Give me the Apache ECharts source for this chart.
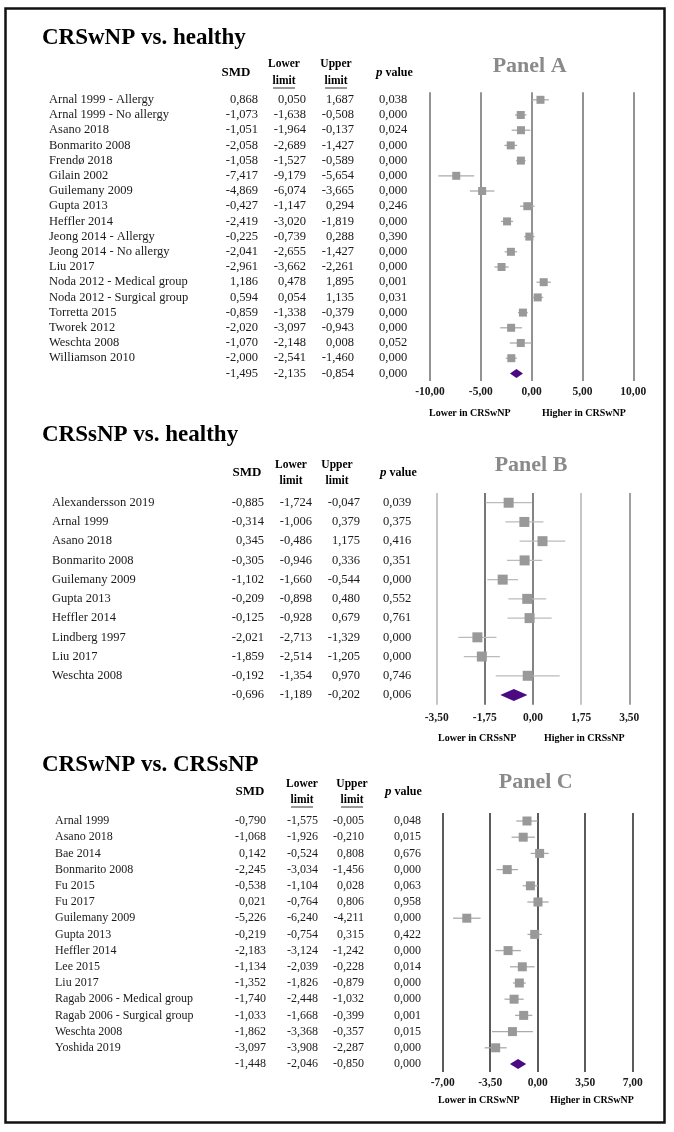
<!DOCTYPE html>
<html><head><meta charset="utf-8">
<script src="https://cdn.jsdelivr.net/npm/echarts@6/dist/echarts.min.js"></script>
<style>html,body{margin:0;padding:0;background:#fff}#c{width:674px;height:1132px}</style>
</head><body><div id="c"></div>
<script>
// ---------- Panel A: CRSwNP vs. healthy ----------
const namesA = ['Arnal 1999 - Allergy','Arnal 1999 - No allergy','Asano 2018','Bonmarito 2008','Frendø 2018','Gilain 2002','Guilemany 2009','Gupta 2013','Heffler 2014','Jeong 2014 - Allergy','Jeong 2014 - No allergy','Liu 2017','Noda 2012 - Medical group','Noda 2012 - Surgical group','Torretta 2015','Tworek 2012','Weschta 2008','Williamson 2010'];
const smdA   = [0.868,-1.073,-1.051,-2.058,-1.058,-7.417,-4.869,-0.427,-2.419,-0.225,-2.041,-2.961,1.186,0.594,-0.859,-2.020,-1.070,-2.000,-1.495];
const lowerA = [0.050,-1.638,-1.964,-2.689,-1.527,-9.179,-6.074,-1.147,-3.020,-0.739,-2.655,-3.662,0.478,0.054,-1.338,-3.097,-2.148,-2.541,-2.135];
const upperA = [1.687,-0.508,-0.137,-1.427,-0.589,-5.654,-3.665,0.294,-1.819,0.288,-1.427,-2.261,1.895,1.135,-0.379,-0.943,0.008,-1.460,-0.854];
const pA     = [0.038,0.000,0.024,0.000,0.000,0.000,0.000,0.246,0.000,0.390,0.000,0.000,0.001,0.031,0.000,0.000,0.052,0.000,0.000];
const ticksA = ['-10,00','-5,00','0,00','5,00','10,00'];

// ---------- Panel B: CRSsNP vs. healthy ----------
const namesB = ['Alexandersson 2019','Arnal 1999','Asano 2018','Bonmarito 2008','Guilemany 2009','Gupta 2013','Heffler 2014','Lindberg 1997','Liu 2017','Weschta 2008'];
const smdB   = [-0.885,-0.314,0.345,-0.305,-1.102,-0.209,-0.125,-2.021,-1.859,-0.192,-0.696];
const lowerB = [-1.724,-1.006,-0.486,-0.946,-1.660,-0.898,-0.928,-2.713,-2.514,-1.354,-1.189];
const upperB = [-0.047,0.379,1.175,0.336,-0.544,0.480,0.679,-1.329,-1.205,0.970,-0.202];
const pB     = [0.039,0.375,0.416,0.351,0.000,0.552,0.761,0.000,0.000,0.746,0.006];
const ticksB = ['-3,50','-1,75','0,00','1,75','3,50'];

// ---------- Panel C: CRSwNP vs. CRSsNP ----------
const namesC = ['Arnal 1999','Asano 2018','Bae 2014','Bonmarito 2008','Fu 2015','Fu 2017','Guilemany 2009','Gupta 2013','Heffler 2014','Lee 2015','Liu 2017','Ragab 2006 - Medical group','Ragab 2006 - Surgical group','Weschta 2008','Yoshida 2019'];
const smdC   = [-0.790,-1.068,0.142,-2.245,-0.538,0.021,-5.226,-0.219,-2.183,-1.134,-1.352,-1.740,-1.033,-1.862,-3.097,-1.448];
const lowerC = [-1.575,-1.926,-0.524,-3.034,-1.104,-0.764,-6.240,-0.754,-3.124,-2.039,-1.826,-2.448,-1.668,-3.368,-3.908,-2.046];
const upperC = [-0.005,-0.210,0.808,-1.456,0.028,0.806,-4.211,0.315,-1.242,-0.228,-0.879,-1.032,-0.399,-0.357,-2.287,-0.850];
const pC     = [0.048,0.015,0.676,0.000,0.063,0.958,0.000,0.422,0.000,0.014,0.000,0.000,0.001,0.015,0.000,0.000];
const ticksC = ['-7,00','-3,50','0,00','3,50','7,00'];

const titles = ['CRSwNP vs. healthy','CRSsNP vs. healthy','CRSwNP vs. CRSsNP'];
const panelLabels = ['Panel A','Panel B','Panel C'];
const headerCols = ['SMD','Lower','limit','Upper','limit','p',' value'];
const footLeft = ['Lower in CRSwNP','Lower in CRSsNP','Lower in CRSwNP'];
const footRight = ['Higher in CRSwNP','Higher in CRSsNP','Higher in CRSwNP'];

const SERIF = '"Liberation Serif","Times New Roman",serif';
const fmt3 = v => v.toFixed(3).replace('.', ',');

const panels = [
  {names:namesA, smd:smdA, lower:lowerA, upper:upperA, p:pA, ticks:ticksA,
   min:-10, max:10, interval:5, left:430, width:203.3, top:92.2, rowH:15.2,
   nameX:49, colX:[258,306,354,379], fs:12.5, sq:8, dh:9, underline:true,
   split:['#777','#777','#777','#777','#777'], ciColor:'#aaa', sqColor:'#999',
   titleY:40, panelY:66, hdrY:73, hdrY1:64, hdrY2:81, hdrX:[236,284,336,376],
   tickY:392, footY:413, footX:[429,542]},
  {names:namesB, smd:smdB, lower:lowerB, upper:upperB, p:pB, ticks:ticksB,
   min:-3.5, max:3.5, interval:1.75, left:436.7, width:192.6, top:493.1, rowH:19.23,
   nameX:52, colX:[264,312,360,383], fs:12.5, sq:10, dh:12, underline:false,
   split:['#b8b8b8','#555','#666','#b8b8b8','#888'], ciColor:'#bbb', sqColor:'#999',
   titleY:437, panelY:465, hdrY:473, hdrY1:465, hdrY2:481, hdrX:[247,291,337,380],
   tickY:718, footY:738, footX:[438,544]},
  {names:namesC, smd:smdC, lower:lowerC, upper:upperC, p:pC, ticks:ticksC,
   min:-7, max:7, interval:3.5, left:442.7, width:190, top:812.9, rowH:16.2,
   nameX:55, colX:[266,318,364,394], fs:12, sq:9, dh:10, underline:true,
   split:['#333','#333','#333','#333','#333'], ciColor:'#aaa', sqColor:'#999',
   titleY:767, panelY:782, hdrY:792, hdrY1:784, hdrY2:800, hdrX:[250,302,352,385],
   tickY:1083, footY:1100, footX:[438,550]}
];

function txt(x, y, s, align, font, fill) {
  return {type:'text', silent:true, style:{x:x, y:y, text:s, align:align, verticalAlign:'middle', font:font, fill:fill||'#1a1a1a'}};
}

const grids = [], xAxes = [], yAxes = [], series = [], graphics = [];

panels.forEach((P, k) => {
  const n = P.smd.length;
  grids.push({left:P.left, top:P.top, width:P.width, height:P.rowH*n});
  xAxes.push({type:'value', gridIndex:k, min:P.min, max:P.max, interval:P.interval,
    axisLine:{show:false}, axisTick:{show:false},
    splitLine:{show:true, lineStyle:{color:P.split, width:1.6}},
    axisLabel:{margin:P.tickY - (P.top + P.rowH*n) - 6, color:'#1a1a1a', fontFamily:SERIF, fontWeight:'bold', fontSize:11.5,
      formatter:(v, idx) => P.ticks[idx]}});
  yAxes.push({type:'category', gridIndex:k, inverse:true, show:false, data:P.names.concat([''])});
  const rowFont = P.fs + 'px ' + SERIF;
  series.push({type:'custom', xAxisIndex:k, yAxisIndex:k, clip:false, silent:true,
    data:P.smd.map((v, i) => [v, i, P.lower[i], P.upper[i]]),
    encode:{x:0, y:1},
    renderItem:function(params, api) {
      const i = params.dataIndex;
      const c = api.coord([api.value(0), i]);
      const xl = api.coord([api.value(2), i])[0];
      const xu = api.coord([api.value(3), i])[0];
      const y = c[1];
      const ch = [];
      if (i < P.names.length) ch.push(txt(P.nameX, y, P.names[i], 'left', rowFont));
      ch.push(txt(P.colX[0], y, fmt3(P.smd[i]), 'right', rowFont));
      ch.push(txt(P.colX[1], y, fmt3(P.lower[i]), 'right', rowFont));
      ch.push(txt(P.colX[2], y, fmt3(P.upper[i]), 'right', rowFont));
      ch.push(txt(P.colX[3], y, fmt3(P.p[i]), 'left', rowFont));
      if (i < P.names.length) {
        ch.push({type:'line', shape:{x1:xl, y1:y, x2:xu, y2:y}, style:{stroke:P.ciColor, lineWidth:1.3}});
        ch.push({type:'rect', shape:{x:c[0]-P.sq/2, y:y-P.sq/2, width:P.sq, height:P.sq}, style:{fill:P.sqColor}});
      } else {
        const h = P.dh/2;
        ch.push({type:'polygon', shape:{points:[[xl,y],[c[0],y-h],[xu,y],[c[0],y+h]]}, style:{fill:'#4b0a82'}});
      }
      return {type:'group', children:ch};
    }});
  // texts
  graphics.push({type:'text', left:42, top:P.titleY-13, style:{text:titles[k], font:'bold 23px ' + SERIF, fill:'#000'}});
  graphics.push({type:'text', x:P.left + P.width/2 - 2, y:P.panelY, style:{text:panelLabels[k], font:'bold 22px ' + SERIF, fill:'#8a8a8a', align:'center', verticalAlign:'middle'}});
  const hb = 'bold 13px ' + SERIF, hs = 'bold 11.5px ' + SERIF;
  graphics.push({type:'text', x:P.hdrX[0], y:P.hdrY, style:{text:headerCols[0], font:hb, fill:'#000', align:'center', verticalAlign:'middle'}});
  graphics.push({type:'text', x:P.hdrX[1], y:P.hdrY1, style:{text:headerCols[1], font:hs, fill:'#000', align:'center', verticalAlign:'middle'}});
  graphics.push({type:'text', x:P.hdrX[1], y:P.hdrY2, style:{text:headerCols[2], font:hs, fill:'#000', align:'center', verticalAlign:'middle'}});
  graphics.push({type:'text', x:P.hdrX[2], y:P.hdrY1, style:{text:headerCols[3], font:hs, fill:'#000', align:'center', verticalAlign:'middle'}});
  graphics.push({type:'text', x:P.hdrX[2], y:P.hdrY2, style:{text:headerCols[4], font:hs, fill:'#000', align:'center', verticalAlign:'middle'}});
  if (P.underline) {
    [P.hdrX[1], P.hdrX[2]].forEach(cx => {
      graphics.push({type:'line', shape:{x1:cx-11, y1:P.hdrY2+7, x2:cx+11, y2:P.hdrY2+7}, style:{stroke:'#000', lineWidth:0.8}});
    });
  }
  graphics.push({type:'text', x:P.hdrX[3], y:P.hdrY, style:{text:'{i|' + headerCols[5] + '}{b|' + headerCols[6] + '}', verticalAlign:'middle',
    rich:{i:{font:'italic bold 13px ' + SERIF, fill:'#000'}, b:{font:'bold 12px ' + SERIF, fill:'#000'}}}});
  const ff = 'bold 10px ' + SERIF;
  graphics.push({type:'text', x:P.footX[0], y:P.footY, style:{text:footLeft[k], font:ff, fill:'#000', verticalAlign:'middle'}});
  graphics.push({type:'text', x:P.footX[1], y:P.footY, style:{text:footRight[k], font:ff, fill:'#000', verticalAlign:'middle'}});
});

graphics.push({type:'rect', shape:{x:5.5, y:8.5, width:659, height:1114}, style:{fill:'none', stroke:'#111', lineWidth:2.5}, z:100});

const chart = echarts.init(document.getElementById('c'), null, {renderer:'canvas'});
chart.setOption({
  animation:false,
  grid:grids, xAxis:xAxes, yAxis:yAxes, series:series, graphic:graphics
});
</script></body></html>
